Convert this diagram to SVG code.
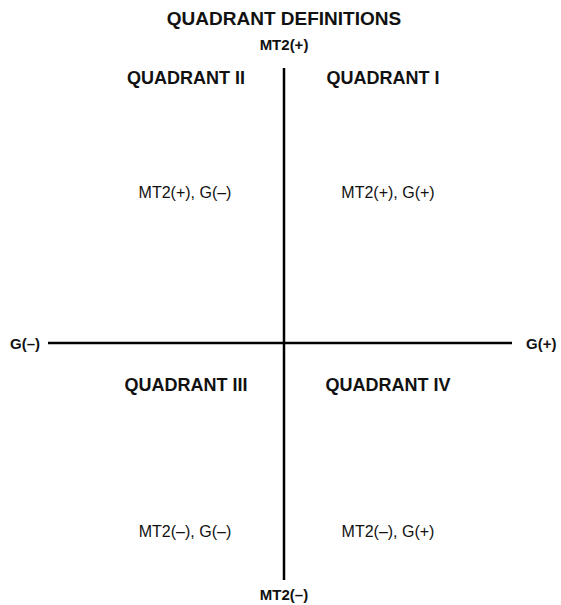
<svg xmlns="http://www.w3.org/2000/svg" width="561" height="605" viewBox="0 0 561 605">
<style>
.b{font-family:"Liberation Sans",Arial,sans-serif;font-weight:bold;fill:#111;}
.r{font-family:"Liberation Sans",Arial,sans-serif;font-size:16px;fill:#111;}
.ax{stroke:#000;stroke-width:2.5;fill:none;}
</style>
<rect width="561" height="605" fill="#fff"/>
<g id="connectors">
<line class="ax" x1="284" y1="68" x2="284" y2="580"/>
<line class="ax" x1="48" y1="343" x2="512" y2="343"/>
</g>
<g id="title"><text class="b" x="284" y="25" font-size="19" text-anchor="middle">QUADRANT DEFINITIONS</text></g>
<g id="mt2plus"><text class="b" x="284" y="50" font-size="15" text-anchor="middle">MT2(+)</text></g>
<g id="mt2minus"><text class="b" x="284" y="600" font-size="15" text-anchor="middle">MT2(–)</text></g>
<g id="gminus"><text class="b" x="10" y="349" font-size="15">G(–)</text></g>
<g id="gplus"><text class="b" x="526" y="349" font-size="15">G(+)</text></g>
<g id="q2"><text class="b" x="186" y="84" font-size="18" text-anchor="middle">QUADRANT II</text>
<text class="r" x="185" y="198" text-anchor="middle">MT2(+), G(–)</text></g>
<g id="q1"><text class="b" x="383" y="84" font-size="18" text-anchor="middle">QUADRANT I</text>
<text class="r" x="388" y="198" text-anchor="middle">MT2(+), G(+)</text></g>
<g id="q3"><text class="b" x="186" y="391" font-size="18" text-anchor="middle">QUADRANT III</text>
<text class="r" x="185" y="537" text-anchor="middle">MT2(–), G(–)</text></g>
<g id="q4"><text class="b" x="388" y="391" font-size="18" text-anchor="middle">QUADRANT IV</text>
<text class="r" x="388" y="537" text-anchor="middle">MT2(–), G(+)</text></g>
</svg>
